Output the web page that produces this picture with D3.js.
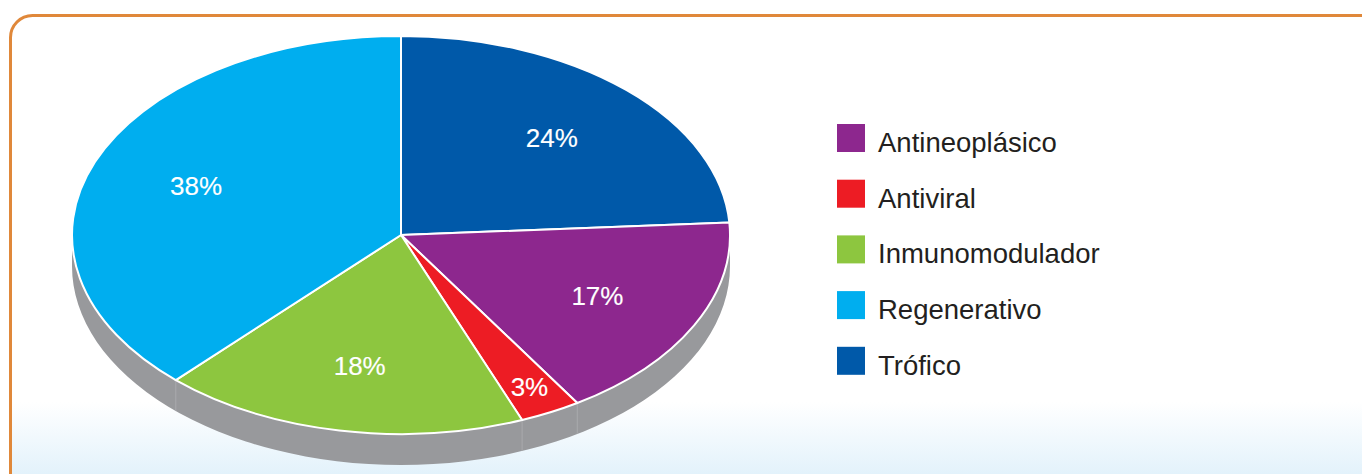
<!DOCTYPE html>
<html>
<head>
<meta charset="utf-8">
<script src="https://cdn.jsdelivr.net/npm/d3@7"></script>
<style>
  html, body { margin: 0; padding: 0; background: #ffffff; }
  svg { display: block; }
</style>
</head>
<body>
<svg id="chart" width="1362" height="474"></svg>
<script>
// ---- data ----
const categories = ["Antineoplásico", "Antiviral", "Inmunomodulador", "Regenerativo", "Trófico"];
const values = [17, 3, 18, 38, 24];
const colors = ["#8d278e", "#ed1c24", "#8dc63f", "#00aeef", "#0059a9"];
const sliceOrder = ["Trófico", "Antineoplásico", "Antiviral", "Inmunomodulador", "Regenerativo"];

// ---- layout ----
const W = 1362, H = 474;
const cx = 401, cy = 235, rx = 329, ry = 199, depth = 31;
const svg = d3.select("#chart");

// background box
const defs = svg.append("defs");
const grad = defs.append("linearGradient")
  .attr("id", "bg").attr("gradientUnits", "userSpaceOnUse")
  .attr("x1", 0).attr("y1", 402).attr("x2", 0).attr("y2", 474);
grad.append("stop").attr("offset", 0).attr("stop-color", "#ffffff");
grad.append("stop").attr("offset", 1).attr("stop-color", "#e3f2fb");

svg.append("rect")
  .attr("x", 10.5).attr("y", 15.5)
  .attr("width", 1372).attr("height", 490)
  .attr("rx", 22).attr("ry", 22)
  .attr("fill", "url(#bg)")
  .attr("stroke", "#e0883a").attr("stroke-width", 3);

// pie data
const pieData = sliceOrder.map(name => {
  const i = categories.indexOf(name);
  return { name, value: values[i], color: colors[i] };
});
const pie = d3.pie().sort(null).value(d => d.value).startAngle(0).endAngle(2 * Math.PI);
const arcs = pie(pieData);

const pt = (a, f = 1, dy = 0) => [cx + rx * f * Math.sin(a), cy - ry * f * Math.cos(a) + dy];

const g = svg.append("g");

// side (front half, angles PI/2..3PI/2)
const a0 = Math.PI / 2, a1 = 3 * Math.PI / 2;
{
  const p0 = pt(a0), p1 = pt(a1);
  const s = `M${p0[0]},${p0[1]} A${rx},${ry} 0 0 1 ${p1[0]},${p1[1]} L${p1[0]},${p1[1] + depth} A${rx},${ry} 0 0 0 ${p0[0]},${p0[1] + depth} Z`;
  g.append("path").attr("d", s).attr("fill", "#98999c");
}
// seams at slice boundaries on the visible side
arcs.forEach(d => {
  const a = d.endAngle;
  if (a > a0 && a < a1) {
    const p = pt(a);
    g.append("line")
      .attr("x1", p[0]).attr("y1", p[1])
      .attr("x2", p[0]).attr("y2", p[1] + depth)
      .attr("stroke", "#a9aaad").attr("stroke-width", 1);
  }
});

// top face slices
arcs.forEach(d => {
  const p0 = pt(d.startAngle), p1 = pt(d.endAngle);
  const large = (d.endAngle - d.startAngle) > Math.PI ? 1 : 0;
  const s = `M${cx},${cy} L${p0[0]},${p0[1]} A${rx},${ry} 0 ${large} 1 ${p1[0]},${p1[1]} Z`;
  g.append("path").attr("d", s)
    .attr("fill", d.data.color)
    .attr("stroke", "#ffffff").attr("stroke-width", 2)
    .attr("stroke-linejoin", "round");
});

// labels
arcs.forEach(d => {
  const mid = (d.startAngle + d.endAngle) / 2;
  const small = (d.endAngle - d.startAngle) < 0.3;
  const p = pt(mid, small ? 0.86 : 0.67);
  g.append("text")
    .attr("x", p[0]).attr("y", p[1] + 9)
    .attr("text-anchor", "middle")
    .attr("font-family", "'Liberation Sans', Arial, sans-serif")
    .attr("font-size", 26)
    .attr("fill", "#ffffff")
    .attr("stroke", "#ffffff").attr("stroke-width", 0.15)
    .text(d3.format(".0%")(d.value / d3.sum(values)));
});

// legend
const legend = svg.append("g").attr("transform", "translate(837,124)");
const item = legend.selectAll("g").data(categories).join("g")
  .attr("transform", (d, i) => `translate(0,${i * 55.7})`);
item.append("rect")
  .attr("width", 28).attr("height", 28)
  .attr("fill", (d, i) => colors[i]);
item.append("text")
  .attr("x", 41).attr("y", 28)
  .attr("font-family", "'Liberation Sans', Arial, sans-serif")
  .attr("font-size", 27.5)
  .attr("fill", "#231f20")
  .text(d => d);
</script>
</body>
</html>
